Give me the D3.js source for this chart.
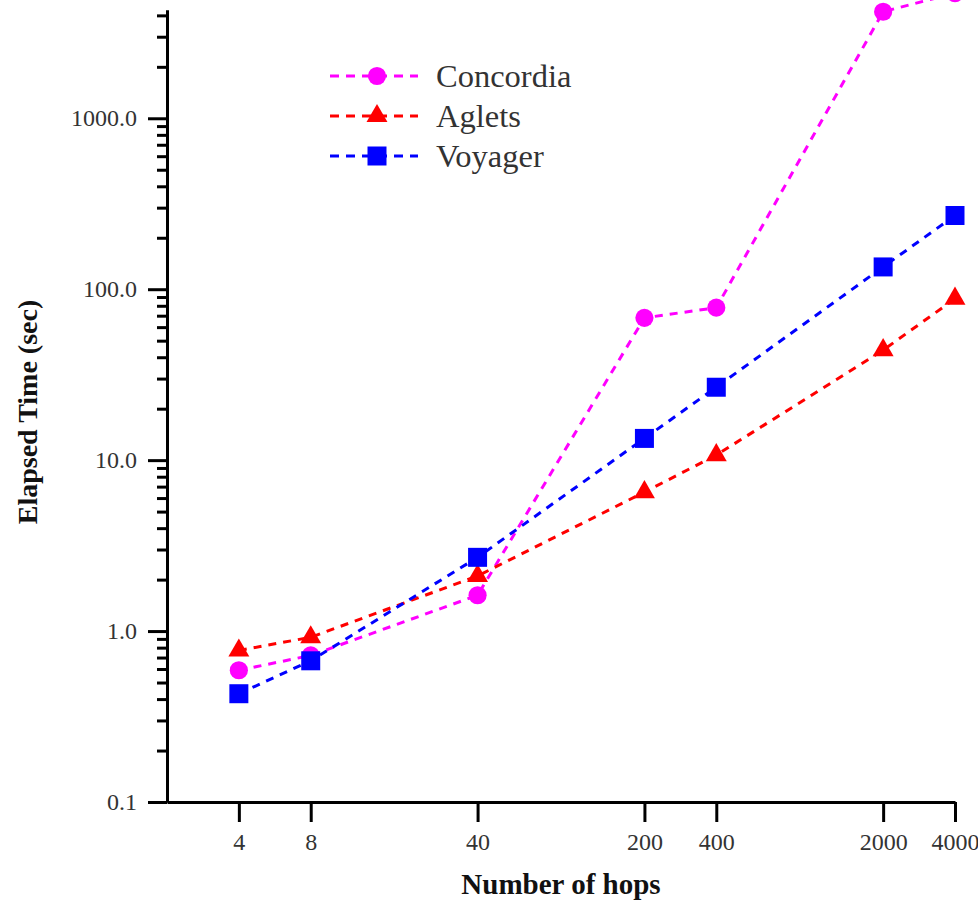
<!DOCTYPE html>
<html>
<head>
<meta charset="utf-8">
<script src="https://cdn.jsdelivr.net/npm/d3@7"></script>
<style>
  body { margin: 0; background: #fff; }
  svg { display: block; }
  text { font-family: "Liberation Serif", "Times New Roman", serif; }
</style>
</head>
<body>
<div class="canvas"></div>
<script>
// hops on the x axis, elapsed seconds for each system
const hops = [4, 8, 40, 200, 400, 2000, 4000];
const concordia = [0.59, 0.72, 1.62, 68, 78, 4200, 5400];
const aglets = [0.77, 0.92, 2.1, 6.5, 10.7, 44, 88];
const voyager = [0.43, 0.67, 2.7, 13.4, 26.7, 135, 270];

const seriesNames = ['Concordia', 'Aglets', 'Voyager'];
const yMajor = [0.1, 1, 10, 100, 1000];

const dims = { width: 978, height: 902 };

const svg = d3.select('.canvas')
    .append('svg')
    .attr('width', dims.width)
    .attr('height', dims.height);

const x = d3.scaleLog().domain([2, 4000]).range([167, 955]);
const y = d3.scaleLog().domain([0.1, 4300]).range([802, 10]);

const series = [
    { name: seriesNames[0], values: concordia, color: '#ff00ff', shape: d3.symbolCircle, size: 260 },
    { name: seriesNames[1], values: aglets, color: '#ff0000', shape: d3.symbolTriangle, size: 190 },
    { name: seriesNames[2], values: voyager, color: '#0000ff', shape: d3.symbolSquare, size: 361 }
];

// minor ticks on y: 2..9 of each decade inside the domain
const yMinor = [];
yMajor.forEach(m => {
    for (let k = 2; k <= 9; k++) {
        const v = m * k;
        if (v <= y.domain()[1]) yMinor.push(v);
    }
});

// axes
const yAxisMinor = d3.axisLeft(y).tickValues(yMinor).tickSize(10).tickSizeOuter(0).tickFormat('');
const yAxis = d3.axisLeft(y).tickValues(yMajor).tickSize(19).tickSizeOuter(0)
    .tickPadding(11).tickFormat(d3.format('.1f'));
const xAxis = d3.axisBottom(x).tickValues(hops).tickSize(20).tickSizeOuter(0)
    .tickPadding(11).tickFormat(d3.format('d'));

const gyMinor = svg.append('g').attr('transform', 'translate(167,0)').call(yAxisMinor);
const gy = svg.append('g').attr('transform', 'translate(167,0)').call(yAxis);
const gx = svg.append('g').attr('transform', 'translate(0,802)').call(xAxis);

[gyMinor, gy, gx].forEach(g => {
    g.selectAll('path.domain').attr('stroke', '#000').attr('stroke-width', 3);
    g.selectAll('.tick line').attr('stroke', '#000').attr('stroke-width', 3);
    g.selectAll('.tick text')
        .attr('fill', '#333')
        .style('font-size', '24px')
        .style('font-family', '"Liberation Serif", "Times New Roman", serif');
});

// axis titles
svg.append('text')
    .attr('x', 561)
    .attr('y', 894)
    .attr('text-anchor', 'middle')
    .attr('font-weight', 'bold')
    .attr('font-size', 29)
    .attr('fill', '#111')
    .text('Number of hops');

svg.append('text')
    .attr('transform', 'translate(37,412) rotate(-90)')
    .attr('text-anchor', 'middle')
    .attr('font-weight', 'bold')
    .attr('font-size', 28)
    .attr('fill', '#111')
    .text('Elapsed Time (sec)');

// lines and markers
const line = d3.line()
    .x((d, i) => x(hops[i]))
    .y(d => y(d));

const plot = svg.append('g');

series.forEach(s => {
    plot.append('path')
        .datum(s.values)
        .attr('d', line)
        .attr('fill', 'none')
        .attr('stroke', s.color)
        .attr('stroke-width', 3)
        .attr('stroke-dasharray', '8,7');
});

series.forEach(s => {
    plot.selectAll(null)
        .data(s.values)
        .enter()
        .append('path')
        .attr('d', d3.symbol().type(s.shape).size(s.size))
        .attr('transform', (d, i) => `translate(${x(hops[i])},${y(d)})`)
        .attr('fill', s.color);
});

// legend
const legend = svg.append('g').attr('transform', 'translate(330,76)');

const items = legend.selectAll('g')
    .data(series)
    .enter()
    .append('g')
    .attr('transform', (d, i) => `translate(0,${i * 40})`);

items.append('line')
    .attr('x1', 0).attr('x2', 88)
    .attr('stroke', d => d.color)
    .attr('stroke-width', 3)
    .attr('stroke-dasharray', '9,7');

items.append('path')
    .attr('d', d => d3.symbol().type(d.shape).size(d.size)())
    .attr('transform', 'translate(47,0)')
    .attr('fill', d => d.color);

items.append('text')
    .attr('x', 106)
    .attr('dy', '0.35em')
    .attr('font-size', 32.5)
    .attr('fill', '#333')
    .text(d => d.name);
</script>
</body>
</html>
